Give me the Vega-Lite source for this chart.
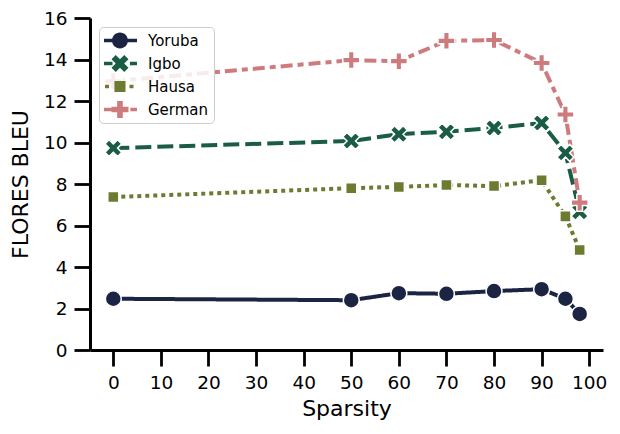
{
  "$schema": "https://vega.github.io/schema/vega-lite/v6.json",
  "width": 513,
  "height": 332,
  "autosize": {"type": "none"},
  "padding": {"left": 90, "top": 18, "right": 17, "bottom": 84},
  "background": "white",
  "config": {
    "view": {"stroke": null},
    "font": "DejaVu Sans",
    "axis": {
      "labelFont": "DejaVu Sans",
      "titleFont": "DejaVu Sans",
      "labelFontSize": 18.5,
      "titleFontSize": 22,
      "titleFontWeight": "normal",
      "labelColor": "black",
      "titleColor": "black",
      "domainColor": "black",
      "domainWidth": 3,
      "tickColor": "black",
      "tickWidth": 2.8,
      "grid": false,
      "labelFlush": false,
      "labelOverlap": false
    }
  },
  "data": {
    "values": [
      {"lang": "Yoruba", "sparsity": 0, "bleu": 2.47},
      {"lang": "Yoruba", "sparsity": 50, "bleu": 2.4},
      {"lang": "Yoruba", "sparsity": 60, "bleu": 2.74},
      {"lang": "Yoruba", "sparsity": 70, "bleu": 2.71},
      {"lang": "Yoruba", "sparsity": 80, "bleu": 2.84},
      {"lang": "Yoruba", "sparsity": 90, "bleu": 2.93},
      {"lang": "Yoruba", "sparsity": 95, "bleu": 2.47},
      {"lang": "Yoruba", "sparsity": 98, "bleu": 1.74},
      {"lang": "Igbo", "sparsity": 0, "bleu": 9.73},
      {"lang": "Igbo", "sparsity": 50, "bleu": 10.07},
      {"lang": "Igbo", "sparsity": 60, "bleu": 10.4},
      {"lang": "Igbo", "sparsity": 70, "bleu": 10.52},
      {"lang": "Igbo", "sparsity": 80, "bleu": 10.7},
      {"lang": "Igbo", "sparsity": 90, "bleu": 10.94},
      {"lang": "Igbo", "sparsity": 95, "bleu": 9.5},
      {"lang": "Igbo", "sparsity": 98, "bleu": 6.66},
      {"lang": "Hausa", "sparsity": 0, "bleu": 7.37},
      {"lang": "Hausa", "sparsity": 50, "bleu": 7.8},
      {"lang": "Hausa", "sparsity": 60, "bleu": 7.86},
      {"lang": "Hausa", "sparsity": 70, "bleu": 7.95},
      {"lang": "Hausa", "sparsity": 80, "bleu": 7.9},
      {"lang": "Hausa", "sparsity": 90, "bleu": 8.18},
      {"lang": "Hausa", "sparsity": 95, "bleu": 6.44},
      {"lang": "Hausa", "sparsity": 98, "bleu": 4.82},
      {"lang": "German", "sparsity": 0, "bleu": 12.95},
      {"lang": "German", "sparsity": 50, "bleu": 13.97},
      {"lang": "German", "sparsity": 60, "bleu": 13.92},
      {"lang": "German", "sparsity": 70, "bleu": 14.9},
      {"lang": "German", "sparsity": 80, "bleu": 14.94},
      {"lang": "German", "sparsity": 90, "bleu": 13.83},
      {"lang": "German", "sparsity": 95, "bleu": 11.35},
      {"lang": "German", "sparsity": 98, "bleu": 7.1}
    ]
  },
  "encoding": {
    "x": {
      "field": "sparsity",
      "type": "quantitative",
      "scale": {"domain": [-4.9, 102.9], "nice": false, "zero": false},
      "axis": {"values": [0, 10, 20, 30, 40, 50, 60, 70, 80, 90, 100], "title": "Sparsity", "ticks": true, "tickSize": 16, "labelPadding": 7, "titlePadding": 7}
    },
    "y": {
      "field": "bleu",
      "type": "quantitative",
      "scale": {"domain": [0, 16], "nice": false},
      "axis": {"values": [0, 2, 4, 6, 8, 10, 12, 14, 16], "title": "FLORES BLEU", "ticks": true, "tickSize": 16, "labelPadding": 7, "titlePadding": 11}
    }
  },
  "layer": [
    {
      "mark": {"type": "line", "strokeWidth": 4},
      "encoding": {
        "color": {
          "field": "lang",
          "type": "nominal",
          "scale": {"domain": ["Yoruba", "Igbo", "Hausa", "German"], "range": ["#1c2443", "#1a5d44", "#6b7b2f", "#cd7b7d"]},
          "legend": {
            "title": null,
            "orient": "top-left",
            "offset": 9,
            "padding": 5,
            "strokeColor": "#cccccc",
            "fillColor": "rgba(255,255,255,0.85)",
            "cornerRadius": 4,
            "labelFont": "DejaVu Sans",
            "labelFontSize": 15,
            "labelColor": "black",
            "rowPadding": 6,
            "symbolSize": 289,
            "symbolStrokeWidth": 0,
            "symbolOpacity": 1,
            "labelOffset": 27
          }
        },
        "strokeDash": {
          "field": "lang",
          "type": "nominal",
          "scale": {"domain": ["Yoruba", "Igbo", "Hausa", "German"], "range": [[1, 0], [16, 6], [4, 4], [12, 5, 6, 5]]},
          "legend": null
        }
      }
    },
    {
      "mark": {"type": "point", "filled": true, "opacity": 0, "size": 289},
      "encoding": {
        "color": {
          "field": "lang",
          "type": "nominal",
          "scale": {"domain": ["Yoruba", "Igbo", "Hausa", "German"], "range": ["#1c2443", "#1a5d44", "#6b7b2f", "#cd7b7d"]},
          "legend": {
            "title": null,
            "orient": "top-left",
            "offset": 9,
            "padding": 5,
            "strokeColor": "#cccccc",
            "fillColor": "rgba(255,255,255,0.85)",
            "cornerRadius": 4,
            "labelFont": "DejaVu Sans",
            "labelFontSize": 15,
            "labelColor": "black",
            "rowPadding": 6,
            "symbolSize": 289,
            "symbolStrokeWidth": 0,
            "symbolOpacity": 1,
            "labelOffset": 27
          }
        },
        "shape": {
          "field": "lang",
          "type": "nominal",
          "scale": {
            "domain": ["Yoruba", "Igbo", "Hausa", "German"],
            "range": [
              "M-1,-0.22H-0.04V0.22H-1Z M1.8,-0.22H2.88V0.22H1.8Z M-0.06,0A0.94,0.94 0 1,1 1.82,0A0.94,0.94 0 1,1 -0.06,0Z",
              "M-1,-0.22H0V0.22H-1Z M2.05,-0.22H2.88V0.22H2.05Z M1.38,-1L1.88,-0.5L1.38,0L1.88,0.5L1.38,1L0.88,0.5L0.38,1L-0.12,0.5L0.38,0L-0.12,-0.5L0.38,-1L0.88,-0.5Z",
              "M-0.88,-0.22H-0.41V0.22H-0.88Z M2,-0.22H2.47V0.22H2Z M0.23,-0.65H1.53V0.65H0.23Z",
              "M-1,-0.22H-0.12V0.22H-1Z M2.1,-0.22H2.88V0.22H2.1Z M0.55,-1H1.21V-0.33H1.88V0.33H1.21V1H0.55V0.33H-0.12V-0.33H0.55Z"
            ]
          },
          "legend": null
        }
      }
    },
    {
      "transform": [{"filter": "datum.lang === 'Yoruba'"}],
      "mark": {"type": "point", "filled": true, "opacity": 1, "color": "#1c2443", "stroke": "white", "strokeWidth": 1.5, "size": 289, "shape": "M-0.94,0A0.94,0.94 0 1,1 0.94,0A0.94,0.94 0 1,1 -0.94,0Z"}
    },
    {
      "transform": [{"filter": "datum.lang === 'Igbo'"}],
      "mark": {"type": "point", "filled": true, "opacity": 1, "color": "#1a5d44", "stroke": "white", "strokeWidth": 1.5, "size": 289, "shape": "M0.5,-1L1,-0.5L0.5,0L1,0.5L0.5,1L0,0.5L-0.5,1L-1,0.5L-0.5,0L-1,-0.5L-0.5,-1L0,-0.5Z"}
    },
    {
      "transform": [{"filter": "datum.lang === 'Hausa'"}],
      "mark": {"type": "point", "filled": true, "opacity": 1, "color": "#6b7b2f", "stroke": "white", "strokeWidth": 1.5, "size": 289, "shape": "M-0.65,-0.65H0.65V0.65H-0.65Z"}
    },
    {
      "transform": [{"filter": "datum.lang === 'German'"}],
      "mark": {"type": "point", "filled": true, "opacity": 1, "color": "#cd7b7d", "stroke": "white", "strokeWidth": 1.5, "size": 289, "shape": "M-0.33,-1H0.33V-0.33H1V0.33H0.33V1H-0.33V0.33H-1V-0.33H-0.33Z"}
    }
  ]
}
